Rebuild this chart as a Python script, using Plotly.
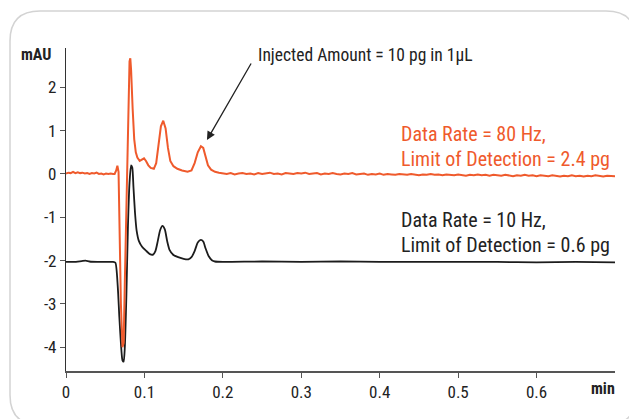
import plotly.graph_objects as go

# ---------------- data ----------------
orange_x = [0.000, 0.003, 0.006, 0.009, 0.012, 0.015, 0.018, 0.021, 0.024, 0.027,
            0.030, 0.033, 0.036, 0.039, 0.042, 0.045, 0.048, 0.051, 0.054, 0.057,
            0.060, 0.062, 0.064, 0.0655, 0.067, 0.068, 0.070, 0.072, 0.0735, 0.075,
            0.077, 0.079, 0.081, 0.082, 0.083, 0.085, 0.087, 0.089, 0.091, 0.094,
            0.097, 0.0995, 0.102, 0.105, 0.108, 0.112, 0.115, 0.118, 0.121, 0.124,
            0.127, 0.130, 0.133, 0.137, 0.142, 0.148, 0.155, 0.160, 0.164, 0.168,
            0.172, 0.175, 0.178, 0.181, 0.185, 0.190, 0.195,
            0.200, 0.205, 0.210, 0.215, 0.220, 0.225, 0.230, 0.235, 0.240, 0.245,
            0.250, 0.255, 0.260, 0.265, 0.270, 0.275, 0.280, 0.285, 0.290, 0.295,
            0.300, 0.305, 0.310, 0.315, 0.320, 0.325, 0.330, 0.335, 0.340, 0.345,
            0.350, 0.355, 0.360, 0.365, 0.370, 0.375, 0.380, 0.385, 0.390, 0.395,
            0.400, 0.405, 0.410, 0.415, 0.420, 0.425, 0.430, 0.435, 0.440, 0.445,
            0.450, 0.455, 0.460, 0.465, 0.470, 0.475, 0.480, 0.485, 0.490, 0.495,
            0.500, 0.505, 0.510, 0.515, 0.520, 0.525, 0.530, 0.535, 0.540, 0.545,
            0.550, 0.555, 0.560, 0.565, 0.570, 0.575, 0.580, 0.585, 0.590, 0.595,
            0.600, 0.605, 0.610, 0.615, 0.620, 0.625, 0.630, 0.635, 0.640, 0.645,
            0.650, 0.655, 0.660, 0.665, 0.670, 0.675, 0.680, 0.685, 0.690, 0.695,
            0.700]
orange_y = [0.01, 0.03, 0.02, 0.05, 0.02, 0.04, 0.02, 0.03, 0.01, 0.02,
            0.00, 0.02, 0.01, 0.03, 0.00, 0.01, -0.01, 0.01, 0.00, 0.01,
            0.00, 0.00, 0.08, 0.19, 0.05, -1.00, -3.00, -4.00, -3.90, -2.50,
            -0.50, 1.50, 2.60, 2.67, 2.40, 1.50, 0.80, 0.50, 0.38, 0.30,
            0.33, 0.36, 0.30, 0.20, 0.14, 0.12, 0.25, 0.65, 1.10, 1.23,
            1.05, 0.60, 0.30, 0.18, 0.12, 0.08, 0.05, 0.08, 0.25, 0.50,
            0.64, 0.60, 0.40, 0.20, 0.10, 0.05, 0.03,
            0.02, 0.00, 0.02, -0.01, 0.01, 0.02, 0.00, 0.01, -0.01, 0.02,
            0.00, 0.01, 0.03, 0.00, 0.01, -0.01, 0.02, 0.01, 0.00, 0.02,
            0.01, 0.03, 0.00, 0.01, 0.02, -0.01, 0.01, 0.00, 0.02, 0.00,
            -0.01, 0.01, 0.00, 0.02, -0.01, 0.00, 0.01, -0.02, 0.00, -0.01,
            0.01, -0.02, 0.00, -0.01, -0.02, 0.00, -0.01, -0.02, 0.00, -0.01,
            -0.03, -0.01, -0.02, 0.00, -0.02, -0.01, -0.03, -0.01, -0.02, -0.03,
            -0.01, -0.02, -0.04, -0.02, -0.03, -0.01, -0.03, -0.02, -0.04, -0.02,
            -0.03, -0.04, -0.02, -0.03, -0.05, -0.03, -0.04, -0.02, -0.04, -0.03,
            -0.05, -0.03, -0.04, -0.05, -0.03, -0.04, -0.06, -0.04, -0.05, -0.03,
            -0.05, -0.04, -0.06, -0.04, -0.05, -0.03, -0.05, -0.06, -0.04, -0.05,
            -0.05]

black_x = [0.000, 0.010, 0.020, 0.025, 0.030, 0.040, 0.050, 0.060, 0.063, 0.066,
           0.068, 0.070, 0.072, 0.0735, 0.075, 0.077, 0.079, 0.081, 0.083, 0.0845,
           0.086, 0.088, 0.090, 0.093, 0.097, 0.102, 0.107, 0.111, 0.114, 0.117,
           0.120, 0.123, 0.126, 0.129, 0.132, 0.137, 0.143, 0.150, 0.156, 0.160,
           0.164, 0.168, 0.172, 0.175, 0.178, 0.182, 0.186, 0.190, 0.200, 0.250,
           0.300, 0.350, 0.400, 0.450, 0.500, 0.550, 0.600, 0.650, 0.700]
black_y = [-2.03, -2.03, -2.01, -2.00, -2.02, -2.03, -2.03, -2.03, -2.05, -2.60,
           -3.30, -3.90, -4.30, -4.33, -4.00, -2.80, -1.20, -0.20, 0.20, 0.15,
           -0.30, -0.90, -1.30, -1.55, -1.68, -1.77, -1.85, -1.86, -1.78, -1.55,
           -1.30, -1.20, -1.28, -1.55, -1.75, -1.87, -1.92, -1.96, -1.97, -1.92,
           -1.78, -1.58, -1.52, -1.56, -1.72, -1.90, -1.99, -2.02, -2.03, -2.02,
           -2.03, -2.02, -2.03, -2.03, -2.03, -2.03, -2.04, -2.03, -2.04]

x_tickvals = [0, 0.1, 0.2, 0.3, 0.4, 0.5, 0.6]
x_ticktext = ["0", "0.1", "0.2", "0.3", "0.4", "0.5", "0.6"]
y_tickvals = [-4, -3, -2, -1, 0, 1, 2]
y_ticktext = ["-4", "-3", "-2", "-1", "0", "1", "2"]

label_80 = ["Data Rate = 80 Hz,", "Limit of Detection = 2.4 pg"]
label_10 = ["Data Rate = 10 Hz,", "Limit of Detection = 0.6 pg"]
inject_text = "Injected Amount = 10 pg in 1µL"

# ---------------- style ----------------
FONT = "Liberation Sans Narrow, Arial Narrow, Roboto Condensed, Roboto, sans-serif"
ORANGE = "#EF5A2C"
BLACK = "#1c1c1c"
W, H = 629, 419
ML, MR, MT, MB = 66, 14, 48, 48
PW, PH = W - ML - MR, H - MT - MB


def px(x):
    return (x - ML) / PW


def py(y):
    return (H - MB - y) / PH


fig = go.Figure()
fig.add_trace(go.Scatter(x=black_x, y=black_y, mode="lines",
                         line=dict(color=BLACK, width=1.8, shape="spline", smoothing=0.6),
                         showlegend=False, hoverinfo="skip"))
fig.add_trace(go.Scatter(x=orange_x, y=orange_y, mode="lines",
                         line=dict(color=ORANGE, width=2, shape="linear"),
                         showlegend=False, hoverinfo="skip"))

# rounded frame
x0, x1, y0, y1, r = 10, 636, 11, 425, 30
path = (f"M {px(x0+r)} {py(y0)} L {px(x1-r)} {py(y0)} Q {px(x1)} {py(y0)} {px(x1)} {py(y0+r)} "
        f"L {px(x1)} {py(y1-r)} Q {px(x1)} {py(y1)} {px(x1-r)} {py(y1)} "
        f"L {px(x0+r)} {py(y1)} Q {px(x0)} {py(y1)} {px(x0)} {py(y1-r)} "
        f"L {px(x0)} {py(y0+r)} Q {px(x0)} {py(y0)} {px(x0+r)} {py(y0)} Z")
fig.add_shape(type="path", path=path, xref="paper", yref="paper",
              line=dict(color="#d3d3d3", width=1.5), layer="below")

ann = []
# axis unit labels
ann.append(dict(text="<b>mAU</b>", xref="paper", yref="paper", x=px(19), y=py(54),
                xanchor="left", yanchor="middle", showarrow=False,
                font=dict(family=FONT, size=16, color="#222")))
ann.append(dict(text="<b>min</b>", xref="paper", yref="paper", x=px(617), y=py(388),
                xanchor="right", yanchor="middle", showarrow=False,
                font=dict(family=FONT, size=16, color="#222")))
# injected amount + arrow
ann.append(dict(text=inject_text, xref="paper", yref="paper", x=px(256), y=py(55),
                xanchor="left", yanchor="middle", showarrow=False,
                font=dict(family=FONT, size=17.5, color="#222")))
ann.append(dict(text="", x=(207 - ML) / 784.5, y=(174 - 140) / 43.33, xref="x", yref="y",
                showarrow=True, arrowhead=2, arrowsize=1.3, arrowwidth=1.3, arrowcolor="#222",
                ax=45, ay=-78, standoff=0))
# series labels
for t, yy in zip(label_80, [134, 159]):
    ann.append(dict(text=t, xref="paper", yref="paper", x=px(399), y=py(yy),
                    xanchor="left", yanchor="middle", showarrow=False,
                    font=dict(family=FONT, size=20, color=ORANGE)))
for t, yy in zip(label_10, [220, 245]):
    ann.append(dict(text=t, xref="paper", yref="paper", x=px(399), y=py(yy),
                    xanchor="left", yanchor="middle", showarrow=False,
                    font=dict(family=FONT, size=20, color="#222")))

fig.update_layout(
    width=W, height=H,
    margin=dict(l=ML, r=MR, t=MT, b=MB, pad=0),
    paper_bgcolor="white", plot_bgcolor="white",
    annotations=ann,
    xaxis=dict(range=[0, 0.7], tickvals=x_tickvals, ticktext=x_ticktext,
               showgrid=False, zeroline=False, showline=True, linecolor="#555", linewidth=1.5,
               ticks="outside", ticklen=5, tickcolor="#555", tickwidth=1,
               tickfont=dict(family=FONT, size=17, color="#222")),
    yaxis=dict(range=[-4.547, 2.907], tickvals=y_tickvals, ticktext=y_ticktext,
               showgrid=False, zeroline=False, showline=True, linecolor="#333", linewidth=1.2,
               ticks="outside", ticklen=5, tickcolor="#555", tickwidth=1,
               tickfont=dict(family=FONT, size=17, color="#222")),
)

fig.write_html("out.html", config={"displayModeBar": False},
               post_script="document.body.style.margin='0';document.body.style.overflow='hidden';")
